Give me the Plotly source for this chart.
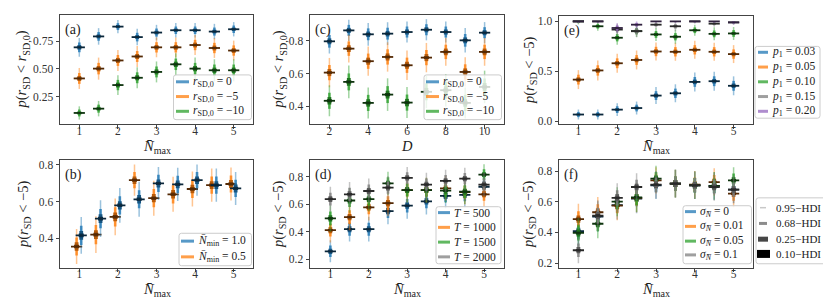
import plotly.graph_objects as go

W, H = 831, 304

# ---------------- data ----------------
nmax = [1, 1.5, 2, 2.5, 3, 3.5, 4, 4.5, 5]
d_vals = [2, 3, 4, 5, 6, 7, 8, 9, 10]

# (a) p(r_SD < r_SD,0) vs Nmax
a_r0 = [0.696, 0.795, 0.884, 0.789, 0.830, 0.851, 0.851, 0.839, 0.860]
a_r5 = [0.414, 0.503, 0.577, 0.613, 0.696, 0.696, 0.717, 0.690, 0.667]
a_r10 = [0.101, 0.140, 0.354, 0.420, 0.473, 0.542, 0.503, 0.488, 0.488]
a_r0_hw = [0.085, 0.075, 0.06, 0.075, 0.07, 0.065, 0.065, 0.07, 0.065]
a_r5_hw = [0.095, 0.1, 0.095, 0.095, 0.09, 0.09, 0.09, 0.09, 0.09]
a_r10_hw = [0.06, 0.07, 0.09, 0.095, 0.095, 0.1, 0.1, 0.1, 0.1]

# (b) p(r_SD < -5) vs Nmax, two Nmin
b_n10 = [0.416, 0.507, 0.579, 0.612, 0.698, 0.693, 0.716, 0.689, 0.671]
b_n05 = [0.355, 0.420, 0.516, 0.716, 0.618, 0.639, 0.668, 0.689, 0.695]
b_n10_hw = [0.1, 0.1, 0.095, 0.095, 0.09, 0.09, 0.085, 0.09, 0.09]
b_n05_hw = [0.095, 0.1, 0.1, 0.085, 0.095, 0.095, 0.095, 0.09, 0.09]

# (c) p(r_SD < r_SD,0) vs D
c_r0 = [0.798, 0.865, 0.841, 0.845, 0.855, 0.869, 0.855, 0.804, 0.851]
c_r5 = [0.606, 0.753, 0.676, 0.702, 0.651, 0.698, 0.733, 0.610, 0.733]
c_r10 = [0.433, 0.549, 0.420, 0.471, 0.422, 0.488, 0.498, 0.420, 0.518]
c_r0_hw = [0.075, 0.065, 0.07, 0.07, 0.065, 0.065, 0.065, 0.075, 0.065]
c_r5_hw = [0.09, 0.085, 0.09, 0.09, 0.09, 0.09, 0.085, 0.09, 0.085]
c_r10_hw = [0.095, 0.1, 0.095, 0.1, 0.095, 0.1, 0.1, 0.095, 0.1]

# (d) p(r_SD < -5) vs Nmax, several T
d_500 = [0.259, 0.420, 0.420, 0.551, 0.591, 0.622, 0.662, 0.670, 0.729]
d_1000 = [0.413, 0.508, 0.579, 0.610, 0.705, 0.705, 0.717, 0.690, 0.674]
d_1500 = [0.499, 0.629, 0.639, 0.753, 0.705, 0.705, 0.700, 0.693, 0.817]
d_2000 = [0.639, 0.674, 0.698, 0.722, 0.793, 0.745, 0.772, 0.788, 0.745]
d_500_hw = [0.08, 0.09, 0.09, 0.095, 0.095, 0.095, 0.09, 0.09, 0.085]
d_1000_hw = [0.09, 0.095, 0.095, 0.095, 0.09, 0.09, 0.09, 0.09, 0.09]
d_1500_hw = [0.095, 0.09, 0.09, 0.085, 0.09, 0.09, 0.09, 0.09, 0.075]
d_2000_hw = [0.09, 0.09, 0.09, 0.085, 0.08, 0.085, 0.08, 0.08, 0.085]

# (e) p(r_SD < -5) vs Nmax, several p1
e_03 = [0.066, 0.066, 0.115, 0.131, 0.256, 0.279, 0.393, 0.400, 0.354]
e_05 = [0.416, 0.508, 0.580, 0.613, 0.698, 0.695, 0.715, 0.695, 0.672]
e_10 = [1.0, 0.951, 0.836, 0.902, 0.869, 0.846, 0.911, 0.875, 0.879]
e_15 = [1.0, 1.0, 0.918, 0.902, 0.967, 0.951, 1.0, 0.977, 0.990]
e_20 = [1.0, 1.0, 0.934, 0.967, 1.0, 1.0, 1.0, 1.0, 0.990]
e_03_hw = [0.05, 0.05, 0.065, 0.065, 0.085, 0.09, 0.095, 0.095, 0.095]
e_05_hw = [0.095, 0.1, 0.095, 0.095, 0.09, 0.09, 0.09, 0.09, 0.09]
e_10_hw = [0.03, 0.045, 0.07, 0.06, 0.065, 0.07, 0.055, 0.065, 0.065]
e_15_hw = [0.02, 0.02, 0.055, 0.06, 0.035, 0.045, 0.02, 0.03, 0.025]
e_20_hw = [0.015, 0.015, 0.05, 0.035, 0.015, 0.015, 0.015, 0.015, 0.02]

# (f) p(r_SD < -5) vs Nmax, several sigma_N
f_0 = [0.408, 0.504, 0.579, 0.621, 0.708, 0.719, 0.708, 0.704, 0.680]
f_001 = [0.487, 0.532, 0.575, 0.626, 0.740, 0.719, 0.712, 0.729, 0.654]
f_005 = [0.397, 0.457, 0.601, 0.629, 0.751, 0.719, 0.708, 0.704, 0.740]
f_01 = [0.284, 0.510, 0.626, 0.697, 0.712, 0.719, 0.708, 0.697, 0.680]
f_0_hw = [0.095, 0.1, 0.095, 0.095, 0.09, 0.09, 0.09, 0.09, 0.09]
f_001_hw = [0.1, 0.1, 0.095, 0.095, 0.085, 0.09, 0.09, 0.09, 0.09]
f_005_hw = [0.095, 0.095, 0.095, 0.095, 0.085, 0.09, 0.09, 0.09, 0.085]
f_01_hw = [0.085, 0.1, 0.095, 0.09, 0.09, 0.09, 0.09, 0.09, 0.09]

hdi_labels = ["0.95\u2212HDI", "0.68\u2212HDI", "0.25\u2212HDI", "0.10\u2212HDI"]

# ---------------- style ----------------
FONT = "Liberation Serif"
BLUE = (31, 119, 180)
ORANGE = (255, 127, 14)
GREEN = (44, 160, 44)
GRAY = (127, 127, 127)
PURPLE = (148, 103, 189)


def rgba(c, a):
    return f"rgba({c[0]},{c[1]},{c[2]},{a})"


def dark(c, f):
    return f"rgb({int(c[0]*f)},{int(c[1]*f)},{int(c[2]*f)})"


# (fraction of 95% half-width, line width, colour builder)
LEVELS = [
    (1.0, 1.5, lambda c: rgba(c, 0.45)),
    (0.52, 2.6, lambda c: rgba(c, 0.8)),
    (0.24, 3.8, lambda c: dark(c, 0.72)),
    (0.10, 5.0, lambda c: dark(c, 0.42)),
]

NM = "<i>N\u0304</i><sub>max</sub>"
RSD = "<i>r</i><sub>SD</sub>"
RSD0 = "<i>r</i><sub>SD,0</sub>"

panels = [
    dict(key="a", box=(52, 245, 5, 116), xr=[0.5, 5.5], yr=[0.0, 0.99], yt=[0.25, 0.5, 0.75], yf=".2f",
         xt=[1, 2, 3, 4, 5], xlab=NM, ylab=f"<i>p</i>({RSD} &lt; {RSD0})",
         series=[(nmax, a_r0, a_r0_hw, BLUE, 0), (nmax, a_r5, a_r5_hw, ORANGE, 0), (nmax, a_r10, a_r10_hw, GREEN, 0)]),
    dict(key="c", box=(302, 496, 5, 116), xr=[1, 11], yr=[0.29, 0.96], yt=[0.4, 0.6, 0.8], yf=".1f",
         xt=[2, 4, 6, 8, 10], xlab="<i>D</i>", ylab=f"<i>p</i>({RSD} &lt; {RSD0})",
         series=[(d_vals, c_r0, c_r0_hw, BLUE, 0), (d_vals, c_r5, c_r5_hw, ORANGE, 0), (d_vals, c_r10, c_r10_hw, GREEN, 0)]),
    dict(key="e", box=(551, 745, 6, 116), xr=[0.5, 5.5], yr=[-0.03, 1.055], yt=[0.0, 0.5, 1.0], yf=".1f",
         xt=[1, 2, 3, 4, 5], xlab=NM, ylab=f"<i>p</i>({RSD} &lt; \u22125)",
         series=[(nmax, e_03, e_03_hw, BLUE, 0), (nmax, e_05, e_05_hw, ORANGE, 0), (nmax, e_10, e_10_hw, GREEN, 0),
                 (nmax, e_15, e_15_hw, GRAY, 0), (nmax, e_20, e_20_hw, PURPLE, 0)]),
    dict(key="b", box=(52, 245, 153, 262), xr=[0.5, 5.5], yr=[0.24, 0.823], yt=[0.4, 0.6, 0.8], yf=".1f",
         xt=[1, 2, 3, 4, 5], xlab=NM, ylab=f"<i>p</i>({RSD} &lt; \u22125)",
         series=[(nmax, b_n05, b_n05_hw, ORANGE, -0.07), (nmax, b_n10, b_n10_hw, BLUE, 0.05)]),
    dict(key="d", box=(302, 496, 153, 262), xr=[0.47, 5.52], yr=[0.14, 0.92], yt=[0.2, 0.4, 0.6, 0.8], yf=".1f",
         xt=[1, 2, 3, 4, 5], xlab=NM, ylab=f"<i>p</i>({RSD} &lt; \u22125)",
         series=[(nmax, d_500, d_500_hw, BLUE, 0), (nmax, d_1000, d_1000_hw, ORANGE, 0),
                 (nmax, d_1500, d_1500_hw, GREEN, 0), (nmax, d_2000, d_2000_hw, GRAY, 0)]),
    dict(key="f", box=(551, 745, 153, 262), xr=[0.5, 5.5], yr=[0.17, 0.87], yt=[0.2, 0.4, 0.6, 0.8], yf=".1f",
         xt=[1, 2, 3, 4, 5], xlab=NM, ylab=f"<i>p</i>({RSD} &lt; \u22125)",
         series=[(nmax, f_0, f_0_hw, BLUE, 0), (nmax, f_001, f_001_hw, ORANGE, 0),
                 (nmax, f_005, f_005_hw, GREEN, 0), (nmax, f_01, f_01_hw, GRAY, 0)]),
]


def px(x):
    return x / W


def py(y):
    return 1 - y / H


fig = go.Figure()
layout = dict(width=W, height=H, margin=dict(l=0, r=0, t=0, b=0), plot_bgcolor="white",
              paper_bgcolor="white", showlegend=False, font=dict(family=FONT, color="#222"))
annotations = []
shapes = []
TICKFONT = dict(family=FONT, size=11.5, color="#333")

for i, p in enumerate(panels):
    n = i + 1
    xa = "x" if n == 1 else f"x{n}"
    ya = "y" if n == 1 else f"y{n}"
    x0, x1, y0, y1 = p["box"]
    axcommon = dict(showline=True, mirror=True, linecolor="#444", linewidth=1, ticks="outside", ticklen=3.5,
                    tickcolor="#444", tickwidth=1, showgrid=False, zeroline=False, tickfont=TICKFONT)
    layout["xaxis" if n == 1 else f"xaxis{n}"] = dict(domain=[px(x0), px(x1)], range=p["xr"], tickvals=p["xt"],
                                                     anchor=ya, showticklabels=False, **axcommon)
    layout["yaxis" if n == 1 else f"yaxis{n}"] = dict(domain=[py(y1), py(y0)], range=p["yr"], tickvals=p["yt"],
                                                     tickformat=p["yf"], anchor=xa, **axcommon)
    # label-only x axis, placed a bit higher (matplotlib's tighter tick-label pad)
    k = 6 + n
    layout[f"xaxis{k}"] = dict(domain=[px(x0), px(x1)], range=p["xr"], tickvals=p["xt"], overlaying=xa,
                               anchor="free", position=py(y1 - 2), ticks="", showline=False, showgrid=False,
                               zeroline=False, tickfont=TICKFONT)
    fig.add_trace(go.Scatter(x=[None], y=[None], xaxis=f"x{k}", yaxis=ya, mode="markers", hoverinfo="skip"))

    for xs_base, med, hw, col, off in p["series"]:
        xs_pos = [x + off for x in xs_base]
        for frac, lw, cfun in LEVELS:
            xs, ys = [], []
            for x, m, h in zip(xs_pos, med, hw):
                lo = m - h * frac
                hi = min(m + h * frac, 1.0)
                xs += [x, x, None]
                ys += [lo, hi, None]
            fig.add_trace(go.Scatter(x=xs, y=ys, mode="lines", xaxis=xa, yaxis=ya,
                                     line=dict(color=cfun(col), width=lw), hoverinfo="skip"))
        fig.add_trace(go.Scatter(x=xs_pos, y=med, mode="markers", xaxis=xa, yaxis=ya,
                                 marker=dict(symbol="line-ew", size=8,
                                             line=dict(color=dark(col, 0.33), width=1.8))))
    annotations.append(dict(x=px(x0 + 3), y=py(y0 + 15), xref="paper", yref="paper", text=f"({p['key']})",
                            showarrow=False, xanchor="left", yanchor="middle",
                            font=dict(family=FONT, size=14, color="#222")))
    annotations.append(dict(x=px((x0 + x1) / 2), y=py(y1 + 12), xref="paper", yref="paper", text=p["xlab"],
                            showarrow=False, xanchor="center", yanchor="top",
                            font=dict(family=FONT, size=14.5, color="#222")))

ytitle_x = {"a": 14, "c": 271, "e": 522, "b": 16, "d": 271, "f": 521}
for p in panels:
    x0, x1, y0, y1 = p["box"]
    annotations.append(dict(x=px(ytitle_x[p["key"]]), y=py((y0 + y1) / 2), xref="paper", yref="paper",
                            text=p["ylab"], textangle=-90, showarrow=False, xanchor="center", yanchor="middle",
                            font=dict(family=FONT, size=14.5, color="#222")))


# ---------------- manual legends ----------------
def rounded_rect(x0, y0, x1, y1, r=2.5):
    X0, X1 = px(x0), px(x1)
    Y0, Y1 = py(y0), py(y1)
    rx, ry = r / W, r / H
    return (f"M {X0+rx},{Y0} L {X1-rx},{Y0} Q {X1},{Y0} {X1},{Y0-ry} L {X1},{Y1+ry} Q {X1},{Y1} {X1-rx},{Y1} "
            f"L {X0+rx},{Y1} Q {X0},{Y1} {X0},{Y1+ry} L {X0},{Y0-ry} Q {X0},{Y0} {X0+rx},{Y0} Z")


def add_legend(box, hx, tx, ys, items, fsize=11.5):
    bx0, bx1, by0, by1 = box
    shapes.append(dict(type="path", path=rounded_rect(bx0, by0, bx1, by1), xref="paper", yref="paper",
                       fillcolor="rgba(255,255,255,0.8)", line=dict(color="#cccccc", width=1), layer="above"))
    for y, (label, color, lw, hxx) in zip(ys, items):
        a, b = hxx if hxx else hx
        shapes.append(dict(type="line", x0=px(a), x1=px(b), y0=py(y), y1=py(y), xref="paper", yref="paper",
                           line=dict(color=color, width=lw), layer="above"))
        annotations.append(dict(x=px(tx), y=py(y), xref="paper", yref="paper", text=label, showarrow=False,
                                xanchor="left", yanchor="middle", font=dict(family=FONT, size=fsize, color="#222")))


def ser(label, col):
    return (label, rgba(col, 0.75), 3, None)


add_legend((165.5, 243.5, 66, 111.5), (168, 181), 183, [73, 88, 103],
           [ser(f"{RSD0} = 0", BLUE), ser(f"{RSD0} = \u22125", ORANGE), ser(f"{RSD0} = \u221210", GREEN)])
add_legend((416, 493.5, 66, 111.5), (418, 431), 433, [73, 88, 103],
           [ser(f"{RSD0} = 0", BLUE), ser(f"{RSD0} = \u22125", ORANGE), ser(f"{RSD0} = \u221210", GREEN)])
add_legend((747, 812, 37, 110), (750, 760), 762, [43, 58, 73, 88, 103],
           [ser("<i>p</i><sub>1</sub> = 0.03", BLUE), ser("<i>p</i><sub>1</sub> = 0.05", ORANGE),
            ser("<i>p</i><sub>1</sub> = 0.10", GREEN), ser("<i>p</i><sub>1</sub> = 0.15", GRAY),
            ser("<i>p</i><sub>1</sub> = 0.20", PURPLE)])
add_legend((171, 243.5, 227, 260), (173, 186), 188, [235, 251],
           [ser("<i>N\u0304</i><sub>min</sub> = 1.0", BLUE), ser("<i>N\u0304</i><sub>min</sub> = 0.5", ORANGE)])
add_legend((428, 493, 200, 258), (430, 442), 444, [206, 221, 236, 251],
           [ser("<i>T</i> = 500", BLUE), ser("<i>T</i> = 1000", ORANGE), ser("<i>T</i> = 1500", GREEN),
            ser("<i>T</i> = 2000", GRAY)])
SIG = "<i>\u03c3</i><sub><i>N\u0304</i></sub>"
add_legend((675, 743.5, 199, 258), (677, 688), 690, [205, 220, 235, 249],
           [ser(f"{SIG} = 0", BLUE), ser(f"{SIG} = 0.01", ORANGE), ser(f"{SIG} = 0.05", GREEN),
            ser(f"{SIG} = 0.1", GRAY)])
add_legend((748, 823, 191, 258), None, 766, [201, 217, 233, 248],
           [(hdi_labels[0], "rgb(200,200,200)", 1.5, (752, 758)),
            (hdi_labels[1], "rgb(140,140,140)", 3, (751, 759)),
            (hdi_labels[2], "rgb(70,70,70)", 5, (750, 760)),
            (hdi_labels[3], "rgb(0,0,0)", 8, (749, 762))], fsize=11)

layout["annotations"] = annotations
layout["shapes"] = shapes
fig.update_layout(**layout)
fig.write_html("out.html")
